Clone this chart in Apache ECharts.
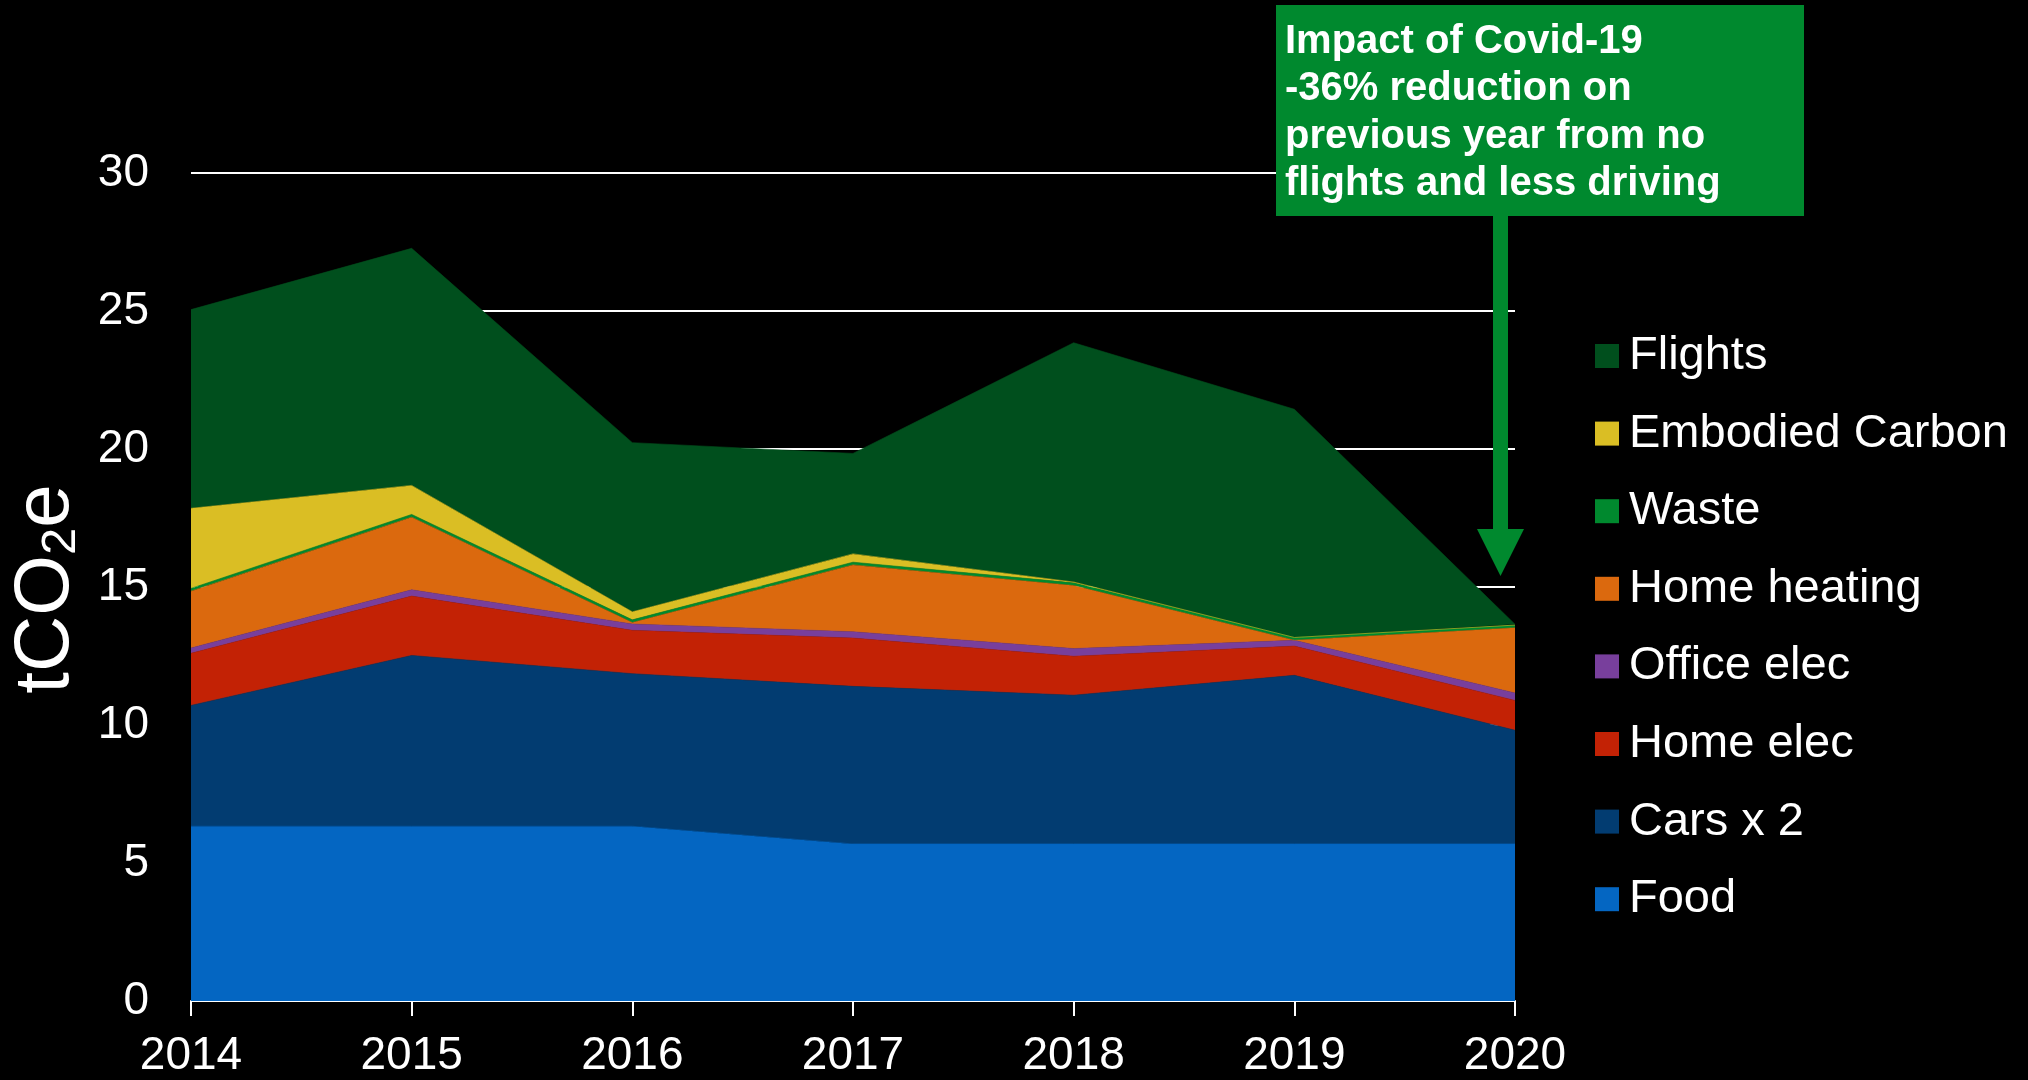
<!DOCTYPE html>
<html>
<head>
<meta charset="utf-8">
<script src="https://cdn.jsdelivr.net/npm/echarts@6/dist/echarts.min.js"></script>
<style>
  html, body { margin: 0; padding: 0; background: #000; }
  #chart { width: 2028px; height: 1080px; }
</style>
</head>
<body>
<div id="chart"></div>
<script>
// years on the x axis
const years = ['2014', '2015', '2016', '2017', '2018', '2019', '2020']
// tCO2e per category, stacked from the bottom up
const food = [6.33, 6.33, 6.33, 5.69, 5.69, 5.69, 5.69]
const cars = [4.38, 6.19, 5.53, 5.71, 5.39, 6.11, 4.12]
const homeElec = [1.89, 2.15, 1.57, 1.75, 1.41, 1.06, 1.08]
const officeElec = [0.19, 0.23, 0.23, 0.23, 0.28, 0.21, 0.27]
const homeHeating = [2.06, 2.63, 0.05, 2.42, 2.28, 0, 2.36]
const waste = [0.1, 0.1, 0.1, 0.1, 0.1, 0.1, 0.1]
const embodied = [2.9, 1.05, 0.29, 0.3, 0.03, 0, 0]
const flights = [7.2, 8.59, 6.13, 3.64, 8.67, 8.27, 0.03]

const seriesDefs = [
  { name: 'Food', data: food, color: '#0466C2' },
  { name: 'Cars x 2', data: cars, color: '#023C71' },
  { name: 'Home elec', data: homeElec, color: '#C32205' },
  { name: 'Office elec', data: officeElec, color: '#783F9C' },
  { name: 'Home heating', data: homeHeating, color: '#DB690E' },
  { name: 'Waste', data: waste, color: '#00892E' },
  { name: 'Embodied Carbon', data: embodied, color: '#DABE24' },
  { name: 'Flights', data: flights, color: '#004F1D' }
]

const font = "'Liberation Sans', Arial, sans-serif"
const note = 'Impact of Covid-19\n-36% reduction on\nprevious year from no\nflights and less driving'

const chart = echarts.init(document.getElementById('chart'))
chart.setOption({
  backgroundColor: '#000',
  animation: false,
  grid: { left: 191, right: 513, top: 173, bottom: 79 },
  legend: {
    orient: 'vertical',
    left: 1590,
    top: 326,
    icon: 'rect',
    itemWidth: 24,
    itemHeight: 24,
    itemGap: 27.6,
    data: seriesDefs.map(s => s.name).reverse(),
    textStyle: { color: '#fff', fontFamily: font, fontSize: 47, lineHeight: 50, padding: [0, 0, 0, 5] }
  },
  xAxis: {
    type: 'category',
    data: years,
    boundaryGap: false,
    axisLine: { lineStyle: { color: '#fff', width: 2 } },
    axisTick: { show: true, length: 15, interval: 0, lineStyle: { color: '#fff', width: 2 } },
    axisLabel: { color: '#fff', fontFamily: font, fontSize: 46, margin: 32, interval: 0 }
  },
  yAxis: {
    type: 'value',
    min: 0,
    max: 30,
    interval: 5,
    axisLine: { show: false },
    axisTick: { show: false },
    axisLabel: { color: '#fff', fontFamily: font, fontSize: 46, margin: 42 },
    splitLine: { lineStyle: { color: '#fff', width: 2 } }
  },
  series: seriesDefs.map(s => ({
    name: s.name,
    type: 'line',
    stack: 'total',
    data: s.data,
    symbol: 'none',
    color: s.color,
    itemStyle: { color: s.color },
    lineStyle: { width: 0.6, color: s.color },
    areaStyle: { color: s.color, opacity: 1 }
  })),
  graphic: [
    {
      type: 'text',
      x: 46,
      y: 589,
      rotation: Math.PI / 2,
      style: {
        text: '{a|tCO}{b|2}{a|e}',
        align: 'center',
        verticalAlign: 'middle',
        fill: '#fff',
        rich: {
          a: { fontFamily: font, fontSize: 78, lineHeight: 80, fill: '#fff' },
          b: { fontFamily: font, fontSize: 49, lineHeight: 30, verticalAlign: 'bottom', fill: '#fff' }
        }
      }
    },
    {
      type: 'rect',
      z: 100,
      shape: { x: 1276, y: 5, width: 528, height: 211 },
      style: { fill: '#00892E' }
    },
    {
      type: 'text',
      z: 101,
      x: 1285,
      y: 18,
      style: {
        text: note,
        fill: '#fff',
        font: 'bold 40px ' + font,
        lineHeight: 47.5
      }
    },
    {
      type: 'rect',
      z: 100,
      shape: { x: 1493, y: 215, width: 15, height: 314 },
      style: { fill: '#00892E' }
    },
    {
      type: 'polygon',
      z: 100,
      shape: { points: [[1477, 529], [1524, 529], [1500.5, 576]] },
      style: { fill: '#00892E' }
    }
  ]
})
</script>
</body>
</html>
